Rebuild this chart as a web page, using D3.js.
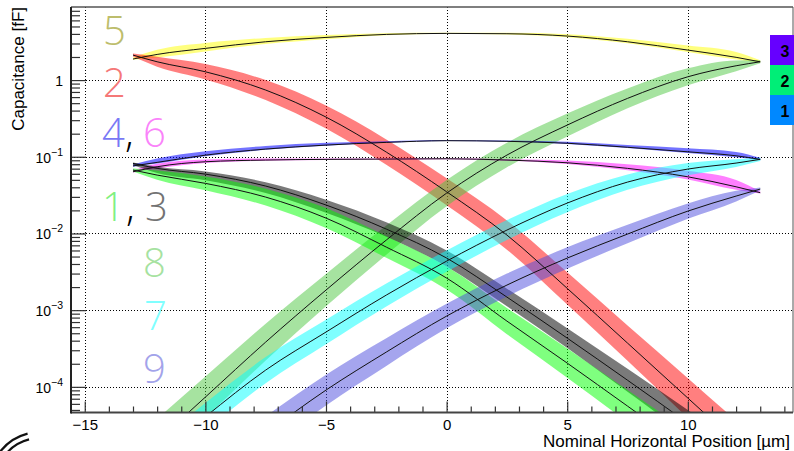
<!DOCTYPE html>
<html>
<head>
<meta charset="utf-8">
<script src="https://cdn.jsdelivr.net/npm/d3@7"></script>
<style>
  body { margin: 0; background: #fff; }
  svg { display: block; }
</style>
</head>
<body>
<svg id="chart" width="794" height="451"></svg>
<script>
// Nominal horizontal positions (µm) at which each capacitance was sampled
const positions = [-13, -12, -10, -7.5, -5, -2.5, 0, 2.5, 5, 7.5, 10, 12, 13];

// Capacitance (fF) along the black centre line of each band, keyed by the band's number
const cap5 = [1.88, 2.16, 2.59, 3.16, 3.6, 3.94, 4.06, 4.02, 3.75, 3.16, 2.46, 1.98, 1.73];
const cap2 = [2.118, 1.732, 1.283, 0.741, 0.3293, 0.1151, 0.03496, 9.53e-3, 1.923e-3, 3.72e-4, 7.14e-5, 1.904e-5, 9.84e-6];
const cap4 = [0.076, 0.0845, 0.105, 0.126, 0.142, 0.154, 0.162, 0.159, 0.150, 0.133, 0.116, 0.103, 0.0925];
const cap6 = [0.0637, 0.0741, 0.0861, 0.0906, 0.0925, 0.0933, 0.0942, 0.0906, 0.0835, 0.0706, 0.0548, 0.0406, 0.034];
const cap3 = [0.082, 0.0706, 0.0594, 0.0415, 0.0235, 0.0114, 4.78e-3, 1.48e-3, 4.32e-4, 1.22e-4, 3.37e-5, 1.18e-5, 6.86e-6];
const cap1 = [0.0671, 0.0577, 0.045, 0.0298, 0.01587, 6.64e-3, 2.62e-3, 7.2e-4, 2.04e-4, 5.61e-5, 1.54e-5, 5.4e-6, 3.14e-6];
const cap8 = [1.014e-5, 1.963e-5, 7.35e-5, 3.835e-4, 1.827e-3, 8.2e-3, 0.0336, 0.1052, 0.2589, 0.5772, 1.104, 1.536, 1.732];
const cap7 = [6.72e-6, 1.224e-5, 4.07e-5, 1.654e-4, 5.18e-4, 1.572e-3, 4.36e-3, 0.01107, 0.02489, 0.04677, 0.06912, 0.08276, 0.09247];
const cap9 = [1.356e-6, 2.327e-6, 6.66e-6, 2.495e-5, 9.07e-5, 2.84e-4, 8.37e-4, 2.123e-3, 4.775e-3, 9.82e-3, 0.01957, 0.03073, 0.03791];

// Band extent above / below the centre line, in decades
const up5 = [0.02, 0.06, 0.07, 0.05, 0.03, 0.015, 0.008, 0.012, 0.025, 0.04, 0.06, 0.07, 0.02];
const dn5 = [0.01, 0.04, 0.04, 0.03, 0.025, 0.012, 0.006, 0.01, 0.015, 0.02, 0.025, 0.03, 0.01];
const spread2 = [0.02, 0.065, 0.1, 0.13, 0.15, 0.165, 0.175, 0.19, 0.21, 0.23, 0.26, 0.28, 0.29];
const up4 = [0.02, 0.05, 0.05, 0.04, 0.03, 0.015, 0.008, 0.01, 0.02, 0.03, 0.045, 0.05, 0.02];
const dn4 = [0.01, 0.015, 0.015, 0.01, 0.008, 0.006, 0.005, 0.006, 0.008, 0.01, 0.015, 0.02, 0.01];
const up6 = [0.02, 0.04, 0.03, 0.02, 0.012, 0.008, 0.006, 0.01, 0.03, 0.055, 0.08, 0.09, 0.02];
const dn6 = [0.01, 0.02, 0.015, 0.01, 0.008, 0.006, 0.005, 0.008, 0.015, 0.025, 0.035, 0.04, 0.01];
const up3 = [0.01, 0.02, 0.035, 0.05, 0.07, 0.09, 0.1, 0.11, 0.13, 0.15, 0.17, 0.18, 0.19];
const dn3 = [0.02, 0.06, 0.08, 0.09, 0.1, 0.1, 0.11, 0.12, 0.13, 0.15, 0.17, 0.18, 0.19];
const spread1 = [0.02, 0.06, 0.09, 0.11, 0.13, 0.14, 0.15, 0.17, 0.19, 0.21, 0.23, 0.25, 0.26];
const spread8 = [0.3, 0.29, 0.27, 0.24, 0.21, 0.19, 0.17, 0.16, 0.15, 0.13, 0.11, 0.07, 0.02];
const spread7 = [0.2, 0.19, 0.18, 0.17, 0.16, 0.15, 0.14, 0.13, 0.12, 0.1, 0.08, 0.05, 0.02];
const spread9 = [0.27, 0.26, 0.24, 0.22, 0.2, 0.18, 0.16, 0.15, 0.14, 0.12, 0.1, 0.07, 0.02];

// Axis ticks and labels
const xMajorTicks = [-15, -10, -5, 0, 5, 10];
const xMinorTicks = [-14, -13, -12, -11, -9, -8, -7, -6, -4, -3, -2, -1, 1, 2, 3, 4, 6, 7, 8, 9, 11, 12, 13, 14];
const yDecades = [1e-4, 1e-3, 1e-2, 1e-1, 1];
const yExponents = [-4, -3, -2, -1, 0];
const xTitle = "Nominal Horizontal Position [µm]";
const yTitle = "Capacitance [fF]";
const legendLabels = ["3", "2", "1"];

// ---------------------------------------------------------------------------
const svg = d3.select("#chart");
const frame = { left: 71, right: 793, top: 7, bottom: 412.5 };

const x = d3.scaleLinear().domain([-15.57, 14.4]).range([71, 794]);
const y = d3.scaleLog().domain([4.63e-5, 8.97]).range([frame.bottom, frame.top]);

svg.append("rect").attr("width", 794).attr("height", 451).attr("fill", "#fff");

svg.append("defs").append("clipPath").attr("id", "plotClip")
  .append("rect")
  .attr("x", frame.left).attr("y", frame.top)
  .attr("width", frame.right - frame.left).attr("height", frame.bottom - frame.top);

// Dotted grid
const grid = svg.append("g").attr("stroke", "#000").attr("stroke-width", 1)
  .attr("stroke-dasharray", "1,2");
grid.selectAll("line.v").data(xMajorTicks).join("line").attr("class", "v")
  .attr("x1", d => Math.round(x(d)) + 0.5).attr("x2", d => Math.round(x(d)) + 0.5)
  .attr("y1", frame.top).attr("y2", frame.bottom);
grid.selectAll("line.h").data(yDecades).join("line").attr("class", "h")
  .attr("y1", d => Math.round(y(d)) + 0.5).attr("y2", d => Math.round(y(d)) + 0.5)
  .attr("x1", frame.left).attr("x2", frame.right);

// Bands and centre lines
const series = [
  { c: cap5, up: up5, dn: dn5, fill: "#ffff00", op: 0.5 },
  { c: cap2, up: spread2, dn: spread2, fill: "#ff0000", op: 0.5 },
  { c: cap8, up: spread8, dn: spread8, fill: "#4dc741", op: 0.5 },
  { c: cap4, up: up4, dn: dn4, fill: "#0000ff", op: 0.55 },
  { c: cap6, up: up6, dn: dn6, fill: "#ff00ff", op: 0.5 },
  { c: cap3, up: up3, dn: dn3, fill: "#000000", op: 0.52 },
  { c: cap1, up: spread1, dn: spread1, fill: "#00ff00", op: 0.5 },
  { c: cap7, up: spread7, dn: spread7, fill: "#00ffff", op: 0.5 },
  { c: cap9, up: spread9, dn: spread9, fill: "#4b4bdd", op: 0.5 }
];

const rows = s => positions.map((p, i) => ({
  p,
  v: s.c[i],
  hi: s.c[i] * Math.pow(10, s.up[i]),
  lo: s.c[i] * Math.pow(10, -s.dn[i])
}));

const band = d3.area().curve(d3.curveMonotoneX)
  .x(d => x(d.p)).y0(d => y(d.lo)).y1(d => y(d.hi));
const centre = d3.line().curve(d3.curveMonotoneX)
  .x(d => x(d.p)).y(d => y(d.v));

const plotG = svg.append("g").attr("clip-path", "url(#plotClip)");
plotG.selectAll("path.band").data(series).join("path").attr("class", "band")
  .attr("d", s => band(rows(s)))
  .attr("fill", s => s.fill).attr("fill-opacity", s => s.op).attr("stroke", "none");
plotG.selectAll("path.centre").data(series).join("path").attr("class", "centre")
  .attr("d", s => centre(rows(s)))
  .attr("fill", "none").attr("stroke", "#111").attr("stroke-width", 1);

// Axes
const axisFont = "'Liberation Sans', Arial, Helvetica, sans-serif";

const xAxisG = svg.append("g").attr("transform", `translate(0,${frame.bottom})`);
xAxisG.call(d3.axisBottom(x).tickValues(xMajorTicks).tickSizeInner(-11).tickSizeOuter(0)
  .tickPadding(7).tickFormat(d => d < 0 ? "\u2212" + Math.abs(d) : String(d)));
xAxisG.append("g").call(d3.axisBottom(x).tickValues(xMinorTicks).tickSizeInner(-6)
  .tickSizeOuter(0).tickFormat(""));
xAxisG.selectAll(".domain").remove();
xAxisG.selectAll("line").attr("stroke", "#333").attr("stroke-width", 1.2);
xAxisG.selectAll("text").attr("font-family", axisFont).attr("font-size", 15).attr("fill", "#000");

const yMinor = [];
[1e-5, 1e-4, 1e-3, 1e-2, 1e-1, 1].forEach(dec => {
  for (let k = 2; k <= 9; k++) {
    const v = dec * k;
    if (v > y.domain()[0] && v < y.domain()[1]) yMinor.push(v);
  }
});

const yAxisG = svg.append("g").attr("transform", `translate(${frame.left},0)`);
yAxisG.call(d3.axisLeft(y).tickValues(yDecades).tickSizeInner(-15).tickSizeOuter(0)
  .tickPadding(8).tickFormat(() => ""));
yAxisG.append("g").call(d3.axisLeft(y).tickValues(yMinor).tickSizeInner(-9)
  .tickSizeOuter(0).tickFormat(""));
yAxisG.selectAll(".domain").remove();
yAxisG.selectAll("line").attr("stroke", "#333").attr("stroke-width", 1.2);

// Decade labels written as powers of ten
yAxisG.selectAll(".tick text").filter(d => yDecades.includes(d)).each(function (d) {
  const e = yExponents[yDecades.indexOf(d)];
  const t = d3.select(this).text(null)
    .attr("font-family", axisFont).attr("font-size", 14).attr("fill", "#000")
    .attr("dy", "0.38em");
  if (e === 0) {
    t.append("tspan").text("1");
  } else {
    t.append("tspan").text("10");
    t.append("tspan").attr("font-size", 10.5).attr("dy", "-0.65em").text("\u2212" + Math.abs(e));
  }
});

// Frame
svg.append("line").attr("x1", frame.left).attr("x2", frame.right)
  .attr("y1", frame.top).attr("y2", frame.top).attr("stroke", "#555").attr("stroke-width", 1.5);
svg.append("line").attr("x1", frame.right).attr("x2", frame.right)
  .attr("y1", frame.top).attr("y2", frame.bottom).attr("stroke", "#555").attr("stroke-width", 1);
svg.append("line").attr("x1", frame.left).attr("x2", frame.right)
  .attr("y1", frame.bottom).attr("y2", frame.bottom).attr("stroke", "#444").attr("stroke-width", 2);
svg.append("line").attr("x1", frame.left).attr("x2", frame.left)
  .attr("y1", frame.top).attr("y2", frame.bottom + 1).attr("stroke", "#222").attr("stroke-width", 2);

// Axis titles
svg.append("text").text(xTitle)
  .attr("x", 790).attr("y", 446.5).attr("text-anchor", "end")
  .attr("font-family", axisFont).attr("font-size", 17).attr("fill", "#000");
svg.append("text").text(yTitle)
  .attr("transform", "translate(23.5,7) rotate(-90)").attr("text-anchor", "end")
  .attr("font-family", axisFont).attr("font-size", 17).attr("fill", "#000");

// Band numbers
const numFont = "'Open Sans', 'Noto Sans', sans-serif";
const bandNumbers = [
  { t: "5", fill: "#bdbd6c", x: 103, y: 45 },
  { t: "2", fill: "#f57878", x: 103, y: 97 },
  { t: "4", fill: "#7878f5", x: 102, y: 147 },
  { t: ",", fill: "#000", x: 125, y: 147 },
  { t: "6", fill: "#fa82fa", x: 143, y: 147 },
  { t: "1", fill: "#80f080", x: 102, y: 221 },
  { t: ",", fill: "#000", x: 126, y: 221 },
  { t: "3", fill: "#737373", x: 145, y: 221 },
  { t: "8", fill: "#a6e2a0", x: 143, y: 277 },
  { t: "7", fill: "#80ffff", x: 144, y: 330 },
  { t: "9", fill: "#a3a3ea", x: 143, y: 383 }
];
svg.append("g").selectAll("text").data(bandNumbers).join("text")
  .text(d => d.t).attr("x", d => d.x).attr("y", d => d.y)
  .attr("fill", d => d.fill)
  .attr("font-family", numFont).attr("font-size", 40).attr("font-weight", 300);

// Legend swatches on the right edge
const legendColors = ["#6600ff", "#00ee77", "#0088ff"];
const legend = svg.append("g");
legend.selectAll("rect").data(legendLabels).join("rect")
  .attr("x", 770).attr("y", (d, i) => 35 + i * 30).attr("width", 30).attr("height", 30)
  .attr("fill", (d, i) => legendColors[i]);
legend.selectAll("text").data(legendLabels).join("text")
  .text(d => d).attr("x", 785).attr("y", (d, i) => 56.5 + i * 30)
  .attr("text-anchor", "middle").attr("font-family", axisFont)
  .attr("font-size", 16).attr("font-weight", "bold").attr("fill", "#000");

// Corner mark
const corner = svg.append("g").attr("fill", "none").attr("stroke", "#111").attr("stroke-width", 2.2);
[50, 44].forEach(r => {
  const p = d3.path();
  p.arc(40, 482, r, Math.PI * 1.17, Math.PI * 1.42);
  corner.append("path").attr("d", p.toString());
});
</script>
</body>
</html>
